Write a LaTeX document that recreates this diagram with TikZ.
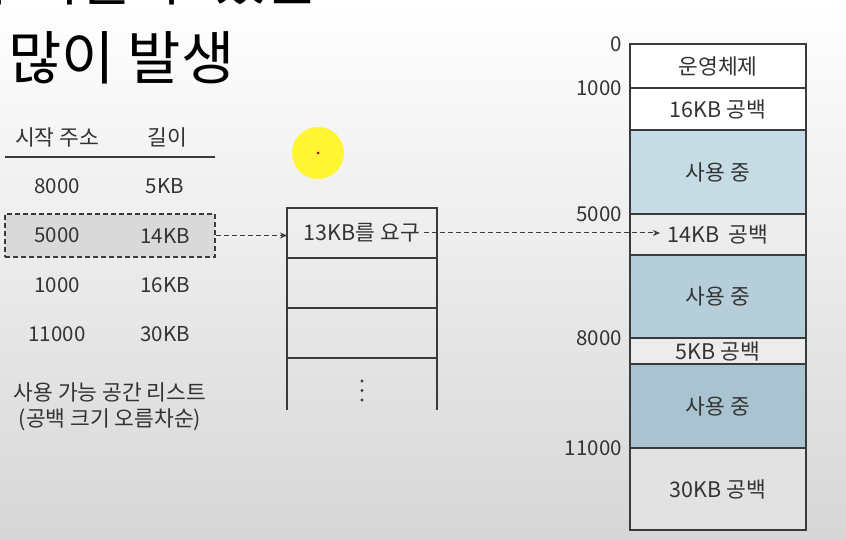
\documentclass[tikz,border=0pt]{standalone}
\usepackage{fontspec}
\setmainfont{Noto Sans CJK KR}
\usetikzlibrary{positioning,arrows.meta}

\definecolor{txt}{HTML}{333333}
\definecolor{frame}{HTML}{3A3A3A}
\definecolor{useda}{HTML}{C6DCE5}
\definecolor{usedb}{HTML}{B5CEDA}
\definecolor{usedc}{HTML}{A9C4D0}
\definecolor{hole}{HTML}{ECECEC}
\definecolor{holeb}{HTML}{E2E2E2}

\begin{document}
\begin{tikzpicture}[x=1pt,y=-1pt,
  every node/.style={text=txt},
  body/.style={font=\fontsize{21.5}{24}\selectfont},
  big/.style={font=\fontsize{58}{60}\selectfont, text=black, inner sep=0pt},
  memcell/.style={draw=frame, line width=1.3pt, minimum width=176pt, inner sep=0pt, outer sep=0pt, anchor=north west},
  slot/.style={draw=frame, line width=1.3pt, minimum width=150pt, minimum height=50pt, inner sep=0pt, outer sep=0pt},
  addr/.style={font=\fontsize{20.5}{24}\selectfont, inner sep=0pt},
  link/.style={dash pattern=on 5pt off 3pt, frame, line width=1pt, -{Stealth[length=7pt,width=6pt]}}
]
\useasboundingbox (0,0) rectangle (846,540);
\clip (0,0) rectangle (846,540);
\shade [top color=white, bottom color=black!16] (0,0) rectangle (846,540);

% title, first line cut off by the frame
\node [big, anchor=base east] (cut) at (319,1) {무시할 수 있는};
\node [big, anchor=base west] (title) at (8,80) {많이 발생};

% pointer
\fill [yellow!80!white] (318,153) circle (26);
\fill [red!70!black] (318,153) circle (1.5);

% free list
\node [body] (hstart) at (57,137) {시작 주소};
\node [body] (hlen) at (167,137) {길이};
\draw [frame, line width=1.2pt] (5,157) -- (215,157);
\node [draw=frame, dash pattern=on 5pt off 3pt, fill=black!15, line width=1.2pt, minimum width=210pt, minimum height=43pt] (pick) at (110,235.5) {};
\foreach \a/\l [count=\i] in {8000/5KB,5000/14KB,1000/16KB,11000/30KB}
  { \node [addr] (a\i) at (57,137+49.3*\i) {\a};
    \node [addr] (l\i) at (165,137+49.3*\i) {\l}; }
\node [body] (cap1) at (110,392) {사용 가능 공간 리스트};
\node [body] (cap2) at (110,420) {(공백 크기 오름차순)};

% request queue
\node [slot] (req) at (362,233) {};
\node [slot, below=0pt of req] (s2) {};
\node [slot, below=0pt of s2] (s3) {};
\draw [frame, line width=1.3pt] (s3.south west) -- ++(0,52) (s3.south east) -- ++(0,52);
\foreach \k in {0,1,2}
  \fill [frame] (362,381+9.5*\k) circle (1.6);
\node [body] (reqtxt) at (req.center) {13KB를 요구};

% memory
\foreach \n/\top/\h/\c/\t in {os/44/44/white/운영체제, f16/88/42/white/16KB 공백,
    u1/130/84/useda/사용 중, f14/214/41/hole/14KB\ \ 공백, u2/255/83/usedb/사용 중,
    f5/338/26/hole/5KB 공백, u3/364/84/usedc/사용 중, f30/448/82/holeb/30KB 공백}
  { \node [memcell, fill=\c, minimum height=\h pt] (\n) at (630,\top) {};
    \node [body] (\n txt) at (\n.center) {\t}; }
\node [addr, left=8pt of os.north west] (m0) {0};
\node [addr, left=8pt of f16.north west] (m1000) {1000};
\node [addr, left=8pt of f14.north west] (m5000) {5000};
\node [addr, left=8pt of f5.north west] (m8000) {8000};
\node [addr, left=8pt of f30.north west] (m11000) {11000};

\draw [link] (pick.east) -- (pick.east -| req.west);
\draw [link, shorten >=4pt] (reqtxt.east) -- (reqtxt.east -| f14txt.west);

\end{tikzpicture}
\end{document}
